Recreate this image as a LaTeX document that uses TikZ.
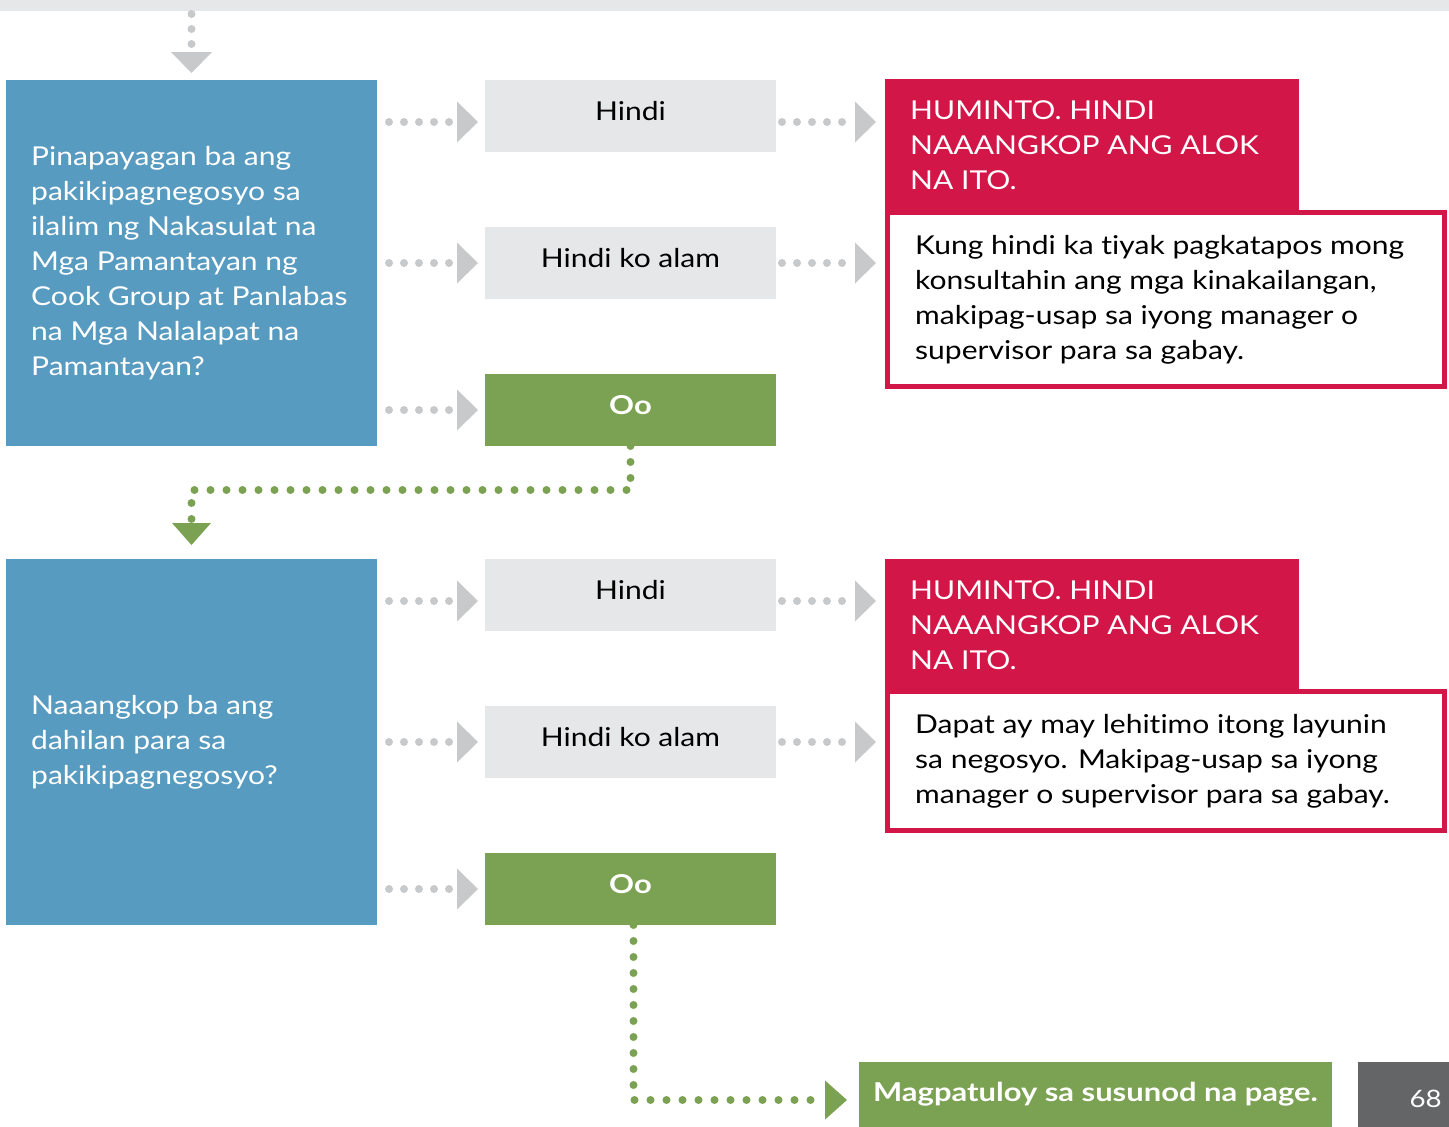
\documentclass[tikz,border=0pt]{standalone}
\usepackage{fontspec}
\setmainfont{Lato}[FakeStretch=1.155, Ligatures=NoCommon, BoldFeatures={FakeStretch=1.19}]
\usetikzlibrary{arrows.meta}
\definecolor{qblue}{HTML}{589BC0}
\definecolor{lgray}{HTML}{E6E7E8}
\definecolor{agray}{HTML}{C8C9CB}
\definecolor{ggreen}{HTML}{7BA152}
\definecolor{sred}{HTML}{D31648}
\definecolor{dgray}{HTML}{646567}
\newcommand{\fs}{\fontsize{26}{35}\selectfont}
\begin{document}
\begin{tikzpicture}[x=1pt,y=-1pt,
  box/.style={inner sep=0pt, outer sep=0pt, anchor=north west},
  qbox/.style={box, fill=qblue, minimum width=371pt, minimum height=366pt},
  qtext/.style={inner sep=0pt, anchor=west, align=left, text=white, font=\fs},
  abox/.style={box, fill=lgray, minimum width=291pt, minimum height=72pt, font=\fs, text height=19pt, text depth=11pt},
  yesbox/.style={abox, fill=ggreen, text=white, font=\fs\bfseries},
  stophead/.style={box, fill=sred, minimum width=414pt, minimum height=133pt},
  stopbody/.style={box, draw=sred, fill=white, line width=5pt, minimum width=557pt},
  wtext/.style={inner sep=0pt, anchor=west, align=left, text=white, font=\fs},
  btext/.style={inner sep=0pt, anchor=west, align=left, text=black, font=\fs},
  grayconn/.style={draw=agray, line width=8pt, line cap=round, dash pattern=on 0pt off 15pt,
    -{Triangle[length=21pt,width=41pt,line width=0pt,fill=agray]}},
  greenconn/.style={draw=ggreen, line width=8pt, line cap=round, dash pattern=on 0pt off 16pt,
    -{Triangle[length=22pt,width=39pt,line width=0pt,fill=ggreen]}}
]
\useasboundingbox (0,0) rectangle (1449,1127);

% top bar
\node[box, fill=lgray, minimum width=1449pt, minimum height=11pt] (topbar) at (0,0) {};

% ---------- block 1 ----------
\node[qbox] (q1) at (6,80) {};
\node[qtext] (q1t) at ([xshift=25pt]q1.west) {Pinapayagan ba ang\\pakikipagnegosyo sa\\ilalim ng Nakasulat na\\Mga Pamantayan ng\\Cook Group at Panlabas\\na Mga Nalalapat na\\Pamantayan?};
\node[abox] (h1) at (485,80) {Hindi};
\node[abox] (d1) at (485,227) {Hindi ko alam};
\node[yesbox] (y1) at (485,374) {Oo};
\node[stopbody, minimum height=174pt] (sb1) at (887.5,212.5) {};
\node[stophead] (sh1) at (885,79) {};
\node[wtext] (sh1t) at ([xshift=25pt]sh1.west) {HUMINTO. HINDI\\NAAANGKOP ANG ALOK\\NA ITO.};
\node[btext] (sb1t) at ([xshift=27.5pt]sb1.west) {Kung hindi ka tiyak pagkatapos mong\\konsultahin ang mga kinakailangan,\\makipag-usap sa iyong manager o\\supervisor para sa gabay.};

% ---------- block 2 ----------
\node[qbox] (q2) at (6,559) {};
\node[qtext] (q2t) at ([xshift=25pt]q2.west) {Naaangkop ba ang\\dahilan para sa\\pakikipagnegosyo?};
\node[abox] (h2) at (485,559) {Hindi};
\node[abox] (d2) at (485,706) {Hindi ko alam};
\node[yesbox] (y2) at (485,853) {Oo};
\node[stopbody, minimum height=139pt] (sb2) at (887.5,691.5) {};
\node[stophead, minimum height=132pt] (sh2) at (885,559) {};
\node[wtext] (sh2t) at ([xshift=25pt]sh2.west) {HUMINTO. HINDI\\NAAANGKOP ANG ALOK\\NA ITO.};
\node[btext] (sb2t) at ([xshift=27.5pt]sb2.west) {Dapat ay may lehitimo itong layunin\\sa negosyo. Makipag-usap sa iyong\\manager o supervisor para sa gabay.};

% ---------- final ----------
\node[box, fill=ggreen, minimum width=473pt, minimum height=65pt, text=white, font=\fs\bfseries] (next) at (859,1062) {Magpatuloy sa susunod na page.};
\node[box, fill=dgray, minimum width=91pt, minimum height=65pt] (pg) at (1358,1062) {};
\node[inner sep=0pt, anchor=east, text=white, font=\fontsize{24}{24}\selectfont] (pgt) at ([xshift=-7pt,yshift=-4pt]pg.east) {68};

% ---------- connectors ----------
\draw[grayconn, shorten <=3pt, shorten >=7pt] (topbar.south -| q1.north) -- (q1.north);
\foreach \n in {h1,h2}{
  \draw[grayconn, shorten <=12pt, shorten >=7pt] ([yshift=-6pt]\n.west -| q1.east) -- ([yshift=-6pt]\n.west);
  \draw[grayconn, shorten <=6pt, shorten >=9pt] ([yshift=-6pt]\n.east) -- ([yshift=-6pt]\n.east -| sh1.west);
}
\foreach \n in {d1,y1,d2,y2}{
  \draw[grayconn, shorten <=12pt, shorten >=7pt] (\n.west -| q1.east) -- (\n.west);
}
\draw[grayconn, shorten <=6pt, shorten >=9pt] (d1.east) -- (d1.east -| sh1.west);
\draw[grayconn, shorten <=6pt, shorten >=9pt] (d2.east) -- (d2.east -| sh2.west);

\draw[greenconn, shorten >=14pt] (y1.south) -- ++(0,44) -| (q2.north);
\draw[greenconn, shorten >=12pt] ([xshift=3pt]y2.south) |- ([yshift=-5.5pt]next.west);
\end{tikzpicture}
\end{document}
